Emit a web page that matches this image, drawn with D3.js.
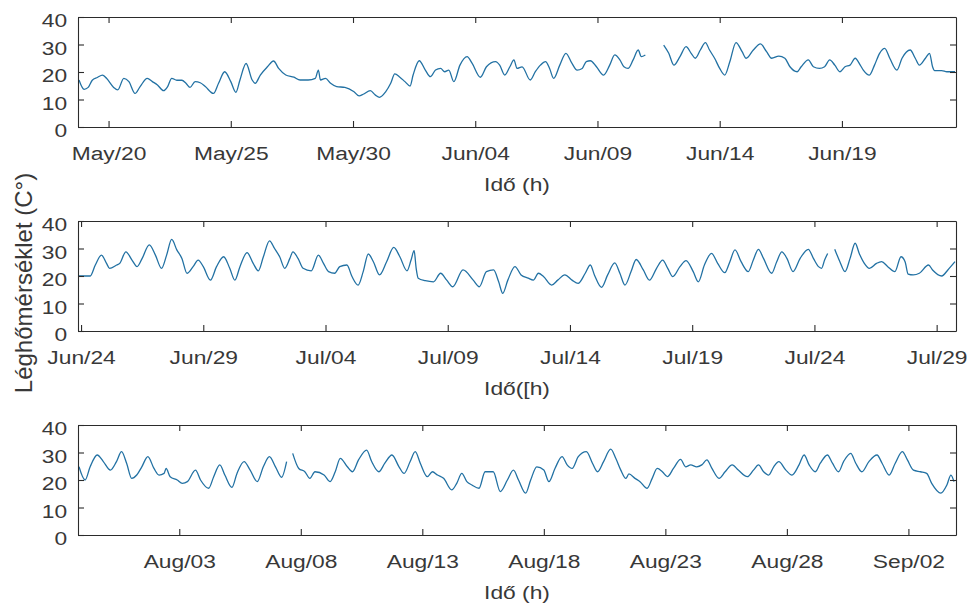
<!DOCTYPE html>
<html>
<head>
<meta charset="utf-8">
<script src="https://cdn.jsdelivr.net/npm/d3@7"></script>
<style>
  body { margin: 0; background: #fff; }
  text { font-family: "Liberation Sans", Arial, sans-serif; fill: #383838; }
</style>
</head>
<body>
<svg id="chart" width="970" height="610"></svg>
<script>
// Hourly air temperature record, split into three roughly 36-day windows.
// Each series entry is [hours since window start, °C]; null marks a logging gap.
const windowStarts = ["2019-05-18T18:00", "2019-06-23T21:00", "2019-07-29T20:00"];
const windowEnds   = ["2019-06-23T16:00", "2019-07-29T19:00", "2019-09-03T23:00"];

const tickDays1 = ["2019-05-20", "2019-05-25", "2019-05-30", "2019-06-04", "2019-06-09", "2019-06-14", "2019-06-19"];
const tickDays2 = ["2019-06-24", "2019-06-29", "2019-07-04", "2019-07-09", "2019-07-14", "2019-07-19", "2019-07-24", "2019-07-29"];
const tickDays3 = ["2019-08-03", "2019-08-08", "2019-08-13", "2019-08-18", "2019-08-23", "2019-08-28", "2019-09-02"];

const xTitles = ["Idő (h)", "Idő([h)", "Idő (h)"];
const yTitle = "Léghőmérséklet (C°)";
const yTicks = [0, 10, 20, 30, 40];

const series1 = [[1,17.1],[6,13.7],[10,14.4],[14,17],[19,18],[24,18.9],[28,17.7],[35,14.4],[39,13.5],[45,17.7],[50,16.5],[56,12.2],[61,14.7],[68,17.7],[73,16.5],[78,15.3],[84,13.2],[88,14.7],[92,17.7],[97,17],[102,17],[106,15.9],[110,14.4],[115,16.5],[120,16.1],[125,14.7],[133,12.2],[138,15.9],[144,20.1],[150,16.5],[155,12.6],[159,17.1],[165,23.1],[171,17.1],[174,15.9],[179,18.9],[186,21.9],[192,24],[197,21.3],[204,18.9],[212,18.1],[218,17.1],[226,17.1],[233,17.7],[236,20.7],[238,17.1],[243,17.7],[248,15.9],[254,14.7],[262,14.4],[271,12.8],[276,11.3],[280,11.9],[287,13.2],[292,11.6],[296,10.8],[302,12.8],[307,15.9],[311,19.3],[316,18.1],[321,16.5],[326,14.9],[329,18.9],[335,24.1],[341,20.7],[346,18.3],[351,20.7],[356,21.3],[360,20.1],[364,20.7],[369,16.5],[375,22.5],[382,25.6],[387,23.1],[395,18.1],[401,21.9],[410,23.8],[414,22.5],[419,18.9],[424,21.9],[428,24.4],[431,21.3],[436,21.9],[444,17.1],[449,20.1],[454,22.5],[459,23.8],[463,21.3],[467,17.7],[473,22.5],[479,26.8],[485,23.1],[490,20.7],[495,21.3],[499,23.8],[503,24.1],[509,21.9],[516,18.9],[522,22.5],[527,26.2],[532,24.4],[536,21.9],[540,21.3],[545,24.4],[550,28],[553,25.6],[557,26.2],[566,null],[575,29.8],[580,26.8],[585,22.5],[591,25.6],[597,29.2],[602,26.8],[606,25],[611,28],[616,30.7],[620,28],[625,25],[630,21.3],[635,18.9],[640,23.8],[646,30.7],[652,27.4],[656,25],[663,28],[670,30.2],[676,27.4],[681,25],[688,25.8],[694,25],[699,21.9],[706,20.1],[710,21.9],[717,24.4],[722,21.9],[728,21.3],[733,21.9],[738,24.4],[743,22.5],[748,20.1],[753,21.9],[758,22.5],[763,25],[768,22.5],[771,20.7],[777,18.9],[782,22.5],[787,26.8],[792,28.6],[797,25],[804,20.7],[809,25],[817,28],[822,25],[826,22.5],[832,25],[836,26.8],[839,21.9],[841,20.5],[848,20.5],[853,20.1],[861,20.1]];

const series2 = [[0,20],[12,20],[17,24],[23,27.6],[28,24.6],[31,22.8],[38,24],[41,24.6],[47,28.8],[53,25.8],[58,23.4],[63,26.4],[70,31.3],[76,27.6],[82,22.8],[87,27.6],[92,33.3],[97,29.5],[102,26.4],[107,21],[113,23.4],[118,25.8],[123,23.4],[130,18.5],[136,23.4],[143,27],[149,22.8],[154,18.5],[159,23.4],[166,28.5],[172,24.6],[177,21.9],[182,27],[188,32.8],[193,30],[198,27],[203,22.8],[208,26.4],[211,28.8],[216,26.4],[221,22.8],[229,21.9],[236,27.6],[241,24.6],[246,21.6],[252,21],[257,23.4],[264,24],[269,19.8],[275,16.7],[280,21.6],[285,28],[290,25.2],[296,20.4],[303,25.2],[310,30.4],[316,27],[323,21.9],[327,25.8],[330,29.2],[332,22.8],[334,19.2],[341,18.3],[349,17.9],[356,21],[362,18.5],[368,16.1],[378,22.2],[388,18.5],[394,16.1],[401,21.6],[408,22.2],[413,17.9],[417,13.7],[422,18.5],[429,23.4],[435,20.4],[442,19.2],[447,18.5],[452,21],[457,19.8],[465,16.7],[471,18.5],[478,20.4],[485,18.5],[491,17.3],[498,21],[503,24],[507,20.4],[514,15.9],[520,20.4],[527,24.8],[532,21],[537,16.7],[543,21.6],[548,26],[555,22.2],[561,18.5],[568,22.8],[574,25.8],[579,22.8],[584,19.8],[591,23.4],[597,25.6],[604,21.6],[609,17.9],[615,24],[622,28.2],[628,24.6],[635,21.2],[640,25.2],[645,29.5],[651,25.2],[658,21.6],[663,25.8],[668,29.7],[673,26.4],[681,21],[686,25.2],[691,28.8],[696,26.4],[702,21.6],[709,26.4],[717,29.7],[722,26.4],[727,23.4],[730,22.8],[733,25.8],[736,28.2],[739,null],[743,29.7],[748,25.2],[753,21.6],[758,26.4],[763,31.9],[767,28.2],[772,24.6],[777,22.8],[784,24.6],[789,25.2],[795,23.4],[802,21.6],[808,27],[812,25.2],[815,20.7],[820,20.4],[826,21],[835,24],[839,22.2],[848,20],[854,22.2],[861,25.2]];

const series3 = [[1,24.8],[7,20],[12,24.8],[19,29.1],[25,26.7],[32,23.6],[38,26.7],[43,30.3],[48,26.1],[53,20.6],[58,21.8],[63,24.8],[69,28.5],[75,24.2],[80,21.8],[85,22.4],[87,24.2],[91,21.2],[98,20],[103,18.8],[108,19.4],[116,23.6],[121,20],[129,17],[134,21.2],[140,25.5],[145,21.8],[152,17.3],[157,22.4],[164,26.7],[170,23.6],[177,19.4],[183,24.8],[189,28.5],[195,24.8],[201,21],[206,26.7],[209,null],[212,29.7],[218,24.2],[224,23],[229,20.6],[234,23],[243,21.8],[249,19.4],[254,23],[259,27.9],[266,24.8],[271,23],[277,27.3],[285,30.9],[290,26.7],[297,23],[303,26.1],[310,29.1],[317,24.8],[322,22.4],[328,26.7],[333,30.3],[338,26.1],[345,21.2],[350,23],[355,21.8],[361,20.6],[369,16.4],[374,18.8],[379,22.4],[384,19.4],[389,18.2],[396,17],[402,23],[410,23],[417,15.8],[424,20],[430,23.6],[435,20],[442,15.2],[447,20],[453,24.8],[460,23.6],[465,19.4],[471,24.2],[478,28.5],[483,25.5],[488,24.2],[494,28.5],[502,30.3],[508,26.1],[513,23],[519,26.7],[526,31.2],[531,27.9],[536,23.6],[541,20.6],[544,22.2],[550,20.6],[555,19.4],[562,17],[567,20.6],[572,24.2],[577,23],[582,21.2],[588,24.2],[595,27.5],[600,24.8],[605,25.5],[611,24.8],[616,25.5],[621,27.3],[626,24.2],[633,20.6],[639,23],[646,25.5],[652,23.6],[661,21.2],[667,23.6],[672,25.5],[677,23],[682,21.8],[687,24.8],[692,26.7],[699,23.6],[705,21.8],[712,25.5],[717,29.1],[722,25.5],[728,23],[733,26.1],[740,29.1],[745,26.1],[751,23],[756,26.7],[763,29.7],[768,26.1],[774,23],[781,26.7],[789,29.1],[794,26.1],[801,21.8],[807,26.1],[814,30.3],[819,27.3],[825,23.6],[832,23],[838,22.4],[843,18.8],[852,15.2],[858,18.2],[862,21.8],[865,19.4]];

const allSeries = [series1, series2, series3];
const allTicks = [tickDays1, tickDays2, tickDays3];

const parseStamp = d3.timeParse("%Y-%m-%dT%H:%M");
const parseDay = d3.timeParse("%Y-%m-%d");
const fmtTick = d3.timeFormat("%b/%d");

const svg = d3.select("#chart");
const left = 78, right = 956, plotH = 110;
const tops = [17, 221, 425];
const lineColor = "#2271a3";
const axisColor = "#2b2b2b";
const labelColor = "#383838";
const textStretch = "scale(1.2,1)";

allSeries.forEach((series, i) => {
  const t0 = parseStamp(windowStarts[i]);
  const t1 = parseStamp(windowEnds[i]);
  const top = tops[i];

  const x = d3.scaleTime().domain([t0, t1]).range([left, right]);
  const y = d3.scaleLinear().domain([0, 40]).range([top + plotH, top]);

  const pts = series.map(([h, v]) => ({ t: d3.timeHour.offset(t0, h), v }));
  const tickVals = allTicks[i].map(parseDay);

  const g = svg.append("g");

  // Temperature trace
  const line = d3.line()
    .defined(d => d.v !== null)
    .x(d => x(d.t))
    .y(d => y(d.v))
    .curve(d3.curveMonotoneX);

  g.append("path")
    .datum(pts)
    .attr("d", line)
    .attr("fill", "none")
    .attr("stroke", lineColor)
    .attr("stroke-width", 1.3)
    .attr("stroke-linejoin", "round");

  // Boxed axes with inward ticks on all four sides
  const bottom = g.append("g")
    .attr("transform", `translate(0,${top + plotH})`)
    .call(d3.axisBottom(x).tickValues(tickVals).tickFormat(fmtTick)
      .tickSizeInner(-6).tickSizeOuter(0).tickPadding(20));
  const topAx = g.append("g")
    .attr("transform", `translate(0,${top})`)
    .call(d3.axisTop(x).tickValues(tickVals).tickFormat("")
      .tickSizeInner(-6).tickSizeOuter(0));
  const leftAx = g.append("g")
    .attr("transform", `translate(${left},0)`)
    .call(d3.axisLeft(y).tickValues(yTicks).tickFormat(d3.format("d"))
      .tickSizeInner(-6).tickSizeOuter(0).tickPadding(9));
  const rightAx = g.append("g")
    .attr("transform", `translate(${right},0)`)
    .call(d3.axisRight(y).tickValues(yTicks).tickFormat("")
      .tickSizeInner(-6).tickSizeOuter(0));

  [bottom, topAx, leftAx, rightAx].forEach(a => {
    a.select(".domain").attr("stroke", axisColor).attr("stroke-width", 1.1);
    a.selectAll(".tick line").attr("stroke", axisColor).attr("stroke-width", 1.1);
  });

  bottom.selectAll("text")
    .attr("font-size", 19)
    .attr("fill", labelColor)
    .attr("transform", textStretch);
  leftAx.selectAll("text")
    .attr("font-size", 19)
    .attr("fill", labelColor)
    .attr("dy", "0.52em")
    .attr("transform", textStretch);

  // Axis title under each panel
  svg.append("text")
    .attr("transform", `translate(${(left + right) / 2},${top + 174}) ${textStretch}`)
    .attr("text-anchor", "middle")
    .attr("font-size", 19)
    .text(xTitles[i]);
});

// Shared vertical title
svg.append("text")
  .attr("transform", "translate(32,283) rotate(-90)")
  .attr("text-anchor", "middle")
  .attr("font-size", 24)
  .text(yTitle);
</script>
</body>
</html>
